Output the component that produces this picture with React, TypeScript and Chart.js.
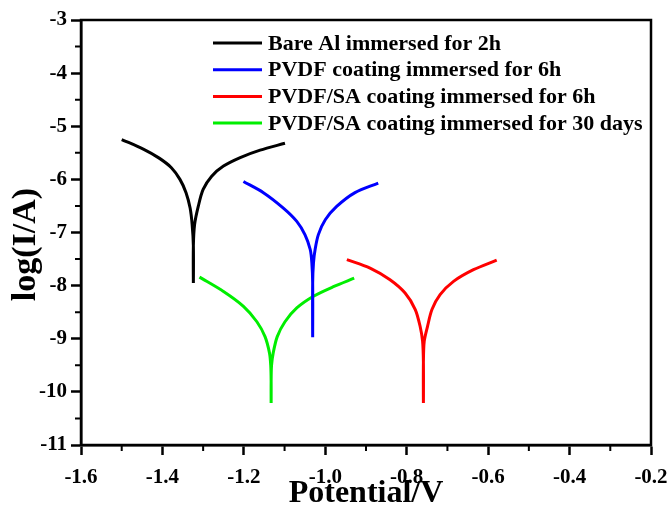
import React, { useEffect, useRef } from "react";
import { Chart, registerables } from "chart.js";

Chart.register(...registerables);

// ---- Data ----
const seriesLabels = [
  "Bare Al immersed for 2h",
  "PVDF coating immersed for 6h",
  "PVDF/SA coating immersed for 6h",
  "PVDF/SA coating immersed for 30 days",
];
const seriesColors = ["#000000", "#0000ff", "#ff0000", "#00ee00"];

const bareAlPotential = [-1.5, -1.447, -1.408, -1.378, -1.357, -1.342, -1.332, -1.327, -1.324, -1.324, -1.324, -1.321, -1.312, -1.3, -1.279, -1.25, -1.209, -1.16, -1.099];
const bareAlLogI = [-5.25, -5.43, -5.6, -5.78, -6.0, -6.25, -6.54, -6.85, -7.25, -7.95, -7.25, -6.85, -6.51, -6.19, -5.94, -5.75, -5.59, -5.45, -5.32];

const pvdfPotential = [-1.201, -1.152, -1.103, -1.07, -1.05, -1.037, -1.033, -1.031, -1.031, -1.031, -1.029, -1.025, -1.017, -1.0, -0.972, -0.927, -0.87];
const pvdfLogI = [-6.04, -6.25, -6.54, -6.79, -7.04, -7.32, -7.57, -7.95, -8.97, -7.95, -7.57, -7.32, -7.04, -6.76, -6.51, -6.25, -6.07];

const pvdfSa6hPotential = [-0.947, -0.89, -0.841, -0.804, -0.779, -0.767, -0.761, -0.759, -0.759, -0.759, -0.757, -0.749, -0.738, -0.718, -0.685, -0.636, -0.579];
const pvdfSa6hLogI = [-7.51, -7.67, -7.89, -8.14, -8.45, -8.77, -9.05, -9.45, -10.21, -9.45, -9.05, -8.77, -8.45, -8.17, -7.92, -7.7, -7.52];

const pvdfSa30dPotential = [-1.309, -1.25, -1.201, -1.168, -1.148, -1.137, -1.134, -1.133, -1.133, -1.133, -1.132, -1.128, -1.118, -1.099, -1.07, -1.029, -0.98, -0.929];
const pvdfSa30dLogI = [-7.84, -8.11, -8.39, -8.68, -8.96, -9.27, -9.5, -9.8, -10.21, -9.8, -9.5, -9.27, -8.96, -8.68, -8.42, -8.2, -8.02, -7.86];

const xMin = -1.6;
const xMax = -0.2;
const xStep = 0.2;
const yMin = -11;
const yMax = -3;
const yStep = 1;
const xMinorTicks = [-1.5, -1.3, -1.1, -0.9, -0.7, -0.5, -0.3];
const yMinorTicks = [-10.5, -9.5, -8.5, -7.5, -6.5, -5.5, -4.5, -3.5];

const xTitle = "Potential/V";
const yTitle = "log(I/A)";

const allPotentials = [bareAlPotential, pvdfPotential, pvdfSa6hPotential, pvdfSa30dPotential];
const allLogI = [bareAlLogI, pvdfLogI, pvdfSa6hLogI, pvdfSa30dLogI];

const FONT = "'Liberation Serif', 'Times New Roman', serif";

export default function App() {
  const ref = useRef<HTMLCanvasElement>(null);

  useEffect(() => {
    if (!ref.current) return;

    const framePlugin = {
      id: "frameAndLegend",
      afterDraw(chart: any) {
        const { ctx, chartArea: a, scales } = chart;
        ctx.save();
        ctx.strokeStyle = "#000";
        ctx.lineWidth = 2.5;
        ctx.strokeRect(a.left, a.top, a.right - a.left, a.bottom - a.top);

        // minor ticks
        ctx.lineWidth = 2;
        ctx.beginPath();
        for (const v of yMinorTicks) {
          const p = scales.y.getPixelForValue(v);
          ctx.moveTo(a.left - 6, p);
          ctx.lineTo(a.left, p);
        }
        for (const v of xMinorTicks) {
          const p = scales.x.getPixelForValue(v);
          ctx.moveTo(p, a.bottom);
          ctx.lineTo(p, a.bottom + 6);
        }
        ctx.stroke();

        // y axis title
        ctx.save();
        ctx.translate(26, (a.top + a.bottom) / 2 + 12);
        ctx.rotate(-Math.PI / 2);
        ctx.font = `bold 34px ${FONT}`;
        ctx.fillStyle = "#000";
        ctx.textAlign = "center";
        ctx.textBaseline = "middle";
        ctx.fillText(yTitle, 0, 0);
        ctx.restore();

        // legend
        const lx0 = a.left + 132;
        const lx1 = a.left + 181;
        const tx = a.left + 187;
        let ly = a.top + 23;
        ctx.font = `bold 22px ${FONT}`;
        ctx.textBaseline = "middle";
        ctx.textAlign = "left";
        chart.data.datasets.forEach((ds: any) => {
          ctx.strokeStyle = ds.borderColor;
          ctx.lineWidth = 3;
          ctx.beginPath();
          ctx.moveTo(lx0, ly);
          ctx.lineTo(lx1, ly);
          ctx.stroke();
          ctx.fillStyle = "#000";
          ctx.fillText(ds.label, tx, ly + 1);
          ly += 26.7;
        });
        ctx.restore();
      },
    };

    const datasets = seriesLabels.map((label, i) => ({
      label,
      data: allPotentials[i].map((x, j) => ({ x, y: allLogI[i][j] })),
      borderColor: seriesColors[i],
      backgroundColor: seriesColors[i],
      borderWidth: 3,
      pointRadius: 0,
      tension: 0.3,
      fill: false,
    }));

    const chart = new Chart(ref.current, {
      type: "line",
      data: { datasets },
      options: {
        animation: false,
        responsive: false,
        maintainAspectRatio: false,
        layout: { padding: { left: 0, right: 20, top: 20, bottom: 0 } },
        plugins: {
          legend: { display: false },
          tooltip: { enabled: false },
        },
        scales: {
          x: {
            type: "linear",
            min: xMin,
            max: xMax,
            afterFit: (s: any) => {
              s.height = 75;
              s.paddingLeft = 18;
              s.paddingRight = 18;
            },
            ticks: {
              stepSize: xStep,
              color: "#000",
              padding: 10,
              font: { family: FONT, size: 21, weight: "bold" },
              callback: (v: any) => Number(v).toFixed(1),
            },
            grid: {
              drawOnChartArea: false,
              drawTicks: true,
              tickLength: 10,
              tickWidth: 2.5,
              tickColor: "#000",
            },
            border: { display: true, color: "#000", width: 2.5 },
            title: {
              display: true,
              text: xTitle,
              color: "#000",
              font: { family: FONT, size: 32, weight: "bold" },
              padding: { top: 0, bottom: 7 },
            },
          },
          y: {
            type: "linear",
            min: yMin,
            max: yMax,
            afterFit: (s: any) => {
              s.width = 81;
            },
            ticks: {
              stepSize: yStep,
              color: "#000",
              padding: 4,
              font: { family: FONT, size: 21, weight: "bold" },
              callback: (v: any) => String(Math.round(Number(v))),
            },
            grid: {
              drawOnChartArea: false,
              drawTicks: true,
              tickLength: 10,
              tickWidth: 2.5,
              tickColor: "#000",
            },
            border: { display: true, color: "#000", width: 2.5 },
            title: { display: false },
          },
        },
      },
      plugins: [framePlugin],
    });

    return () => chart.destroy();
  }, []);

  return (
    <div style={{ position: "fixed", left: 0, top: 0, width: 671, height: 520, background: "#fff" }}>
      <canvas ref={ref} width={671} height={520} style={{ display: "block" }} />
    </div>
  );
}
